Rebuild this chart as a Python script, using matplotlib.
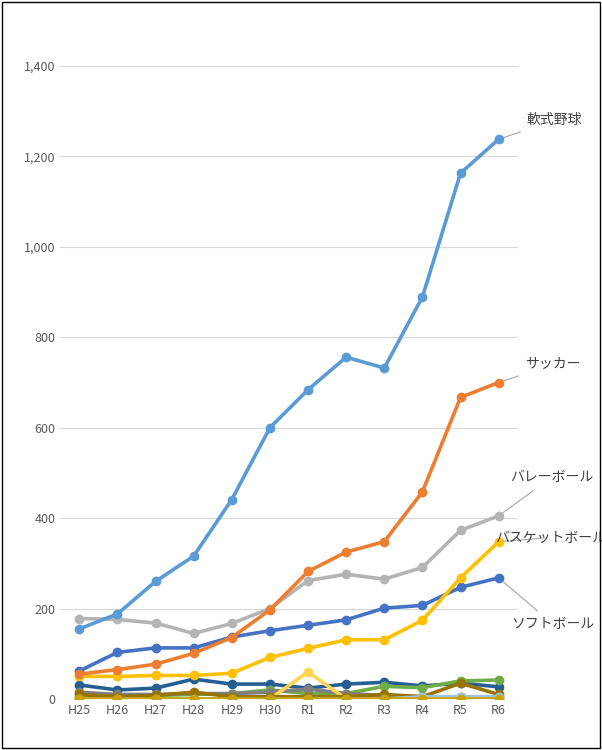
import matplotlib
matplotlib.use('Agg')
import matplotlib.pyplot as plt
from matplotlib.patches import Rectangle

plt.rcParams['font.family'] = ['Noto Sans CJK JP', 'DejaVu Sans']

years = ['H25', 'H26', 'H27', 'H28', 'H29', 'H30', 'R1', 'R2', 'R3', 'R4', 'R5', 'R6']

# minor series (drawn first, underneath)
navy = [31, 20, 24, 44, 33, 33, 24, 33, 37, 29, 35, 27]
green = [5, 5, 8, 10, 12, 20, 12, 12, 28, 25, 40, 42]
gray_dark = [15, 10, 10, 12, 12, 15, 22, 12, 8, 5, 5, 5]
yellow_light = [0, 0, 0, 0, 0, 0, 60, 0, 0, 0, 0, 0]
olive = [10, 5, 8, 15, 5, 5, 5, 5, 10, 5, 35, 10]
blue_light = [0, 0, 0, 0, 0, 0, 0, 0, 0, 5, 5, 5]
gold = [0, 0, 0, 0, 0, 0, 0, 0, 0, 0, 0, 0]

# labelled series
soft_baseball = [155, 188, 260, 316, 441, 600, 684, 756, 732, 889, 1163, 1238]
soccer = [55, 65, 77, 101, 136, 197, 282, 325, 348, 458, 667, 700]
volleyball = [178, 176, 168, 145, 167, 200, 262, 276, 265, 291, 373, 405]
basketball = [50, 50, 52, 52, 57, 92, 112, 131, 131, 174, 268, 348]
softball = [62, 103, 113, 113, 137, 151, 163, 175, 201, 207, 247, 268]

fig = plt.figure(figsize=(6.02, 7.5), dpi=100)
ax = fig.add_axes([0.1, 0.068, 0.76, 0.844])
fig.patches.append(Rectangle((0.003, 0.003), 0.994, 0.994, transform=fig.transFigure,
                             fill=False, edgecolor='black', linewidth=1))

x = list(range(len(years)))
style = dict(linewidth=2.6, marker='o', markersize=6)

minor = [(navy, '#255E91'), (green, '#70AD47'), (gray_dark, '#7F7F7F'),
         (yellow_light, '#FFD54F'), (olive, '#997300'), (blue_light, '#9DC3E6'),
         (gold, '#C9A400')]
for vals, col in minor:
    ax.plot(x, vals, color=col, **style)

main = [(volleyball, '#B4B4B4'), (softball, '#4472C4'), (basketball, '#FFC000'),
        (soccer, '#ED7D31'), (soft_baseball, '#5B9BD5')]
for vals, col in main:
    ax.plot(x, vals, color=col, **style)

# labels with leader lines
labels = [('軟式野球', soft_baseball, 11.74, 1280), ('サッカー', soccer, 11.7, 740),
          ('バレーボール', volleyball, 11.29, 490), ('バスケットボール', basketball, 10.9, 357),
          ('ソフトボール', softball, 11.34, 165)]
for name, vals, tx, ty in labels:
    ax.annotate(name, xy=(x[-1], vals[-1]), xytext=(tx, ty), fontsize=10, color='#404040',
                ha='left', va='center', annotation_clip=False,
                arrowprops=dict(arrowstyle='-', color='#A6A6A6', lw=0.8, shrinkA=4, shrinkB=4))

ax.set_xlim(-0.5, 11.5)
ax.set_ylim(0, 1400)
ax.set_yticks(range(0, 1401, 200))
ax.set_yticklabels([f'{v:,}' for v in range(0, 1401, 200)])
ax.set_xticks(x)
ax.set_xticklabels(years)
ax.tick_params(length=0, labelsize=9, colors='#595959')
ax.grid(axis='y', color='#D9D9D9', linewidth=0.8)
ax.set_axisbelow(True)
for s in ax.spines.values():
    s.set_visible(False)
ax.axhline(0, color='#D9D9D9', linewidth=0.8, zorder=0)

fig.savefig('out.png', dpi=100)
